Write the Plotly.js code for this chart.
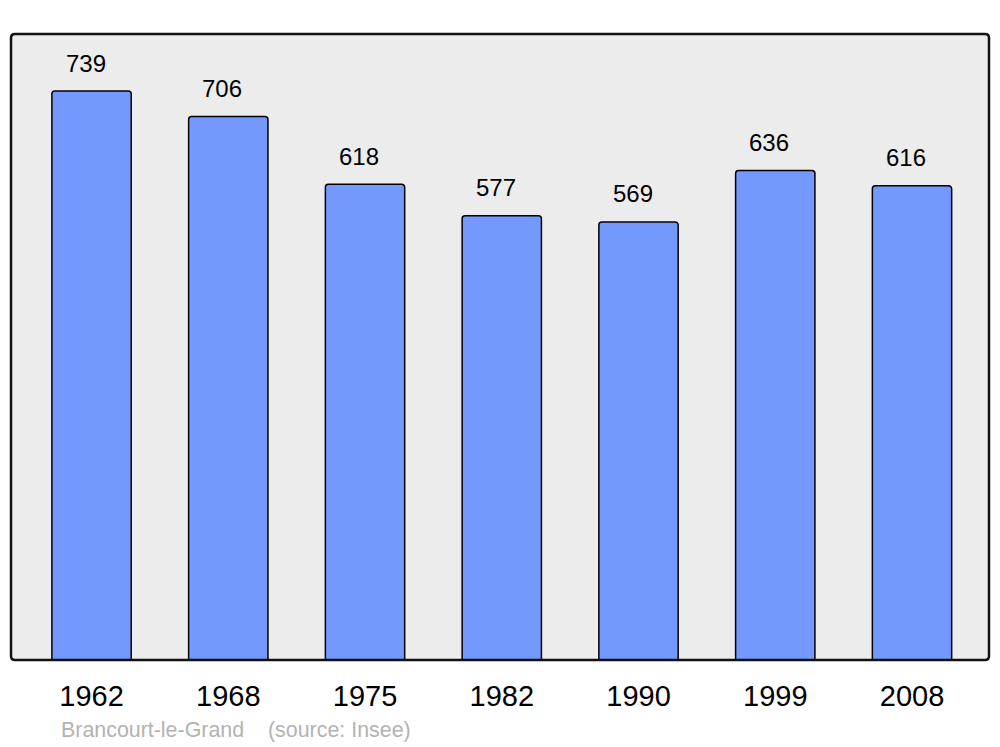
<!DOCTYPE html>
<html>
<head>
<meta charset="utf-8">
<script src="https://cdn.plot.ly/plotly-3.0.1.min.js"></script>
<style>html,body{margin:0;padding:0;background:#fff;}#chart{width:1000px;height:747px;}</style>
</head>
<body>
<div id="chart"></div>
<script>
const years = ["1962", "1968", "1975", "1982", "1990", "1999", "2008"];
const population = [739, 706, 618, 577, 569, 636, 616];
const placeName = "Brancourt-le-Grand";
const sourceNote = "(source: Insee)";

const xs = years.map((_, i) => i);
const FONT = "Liberation Sans, Arial, sans-serif";

const trace = {
  type: "bar",
  x: xs,
  y: population,
  width: 0.58,
  marker: {color: "#7399ff", line: {color: "#000", width: 1.5}, cornerradius: 3},
  hoverinfo: "skip"
};

const annotations = population.map((v, i) => ({
  x: i, y: v, xref: "x", yref: "y", text: String(v), showarrow: false,
  xanchor: "center", yanchor: "middle", xshift: -6, yshift: 28,
  font: {family: FONT, size: 24, color: "#000"}
}));
annotations.push({
  xref: "paper", yref: "paper", x: 0.0491, y: -0.1118, text: placeName, showarrow: false,
  xanchor: "left", yanchor: "middle", font: {family: FONT, size: 21.4, color: "#b3b3b3"}
});
annotations.push({
  xref: "paper", yref: "paper", x: 0.2607, y: -0.1118, text: sourceNote, showarrow: false,
  xanchor: "left", yanchor: "middle", font: {family: FONT, size: 21.4, color: "#b3b3b3"}
});

// rounded frame around the plot area (paper coords, radius ~4px)
const W = 978, H = 626, R = 4;
const rx = R / W, ry = R / H;
const framePath =
  `M ${rx} 1 L ${1 - rx} 1 Q 1 1 1 ${1 - ry} L 1 ${ry} Q 1 0 ${1 - rx} 0 ` +
  `L ${rx} 0 Q 0 0 0 ${ry} L 0 ${1 - ry} Q 0 1 ${rx} 1 Z`;

const layout = {
  width: 1000, height: 747,
  margin: {l: 11, r: 11, t: 34, b: 87, pad: 0},
  paper_bgcolor: "#ffffff",
  plot_bgcolor: "#ececec",
  showlegend: false,
  xaxis: {
    range: [-0.589, 6.563], tickmode: "array", tickvals: xs, ticktext: years,
    showgrid: false, zeroline: false, showline: false, ticks: "",
    tickfont: {family: FONT, size: 29, color: "#000"}, ticklabelstandoff: 16, fixedrange: true
  },
  yaxis: {
    range: [0, 813.2], showgrid: false, zeroline: false, showline: false,
    showticklabels: false, ticks: "", fixedrange: true
  },
  shapes: [{
    type: "path", xref: "paper", yref: "paper", path: framePath,
    line: {color: "#111", width: 2.5}, fillcolor: "rgba(0,0,0,0)", layer: "above"
  }],
  annotations: annotations
};

Plotly.newPlot("chart", [trace], layout, {displayModeBar: false, staticPlot: true});
</script>
</body>
</html>
